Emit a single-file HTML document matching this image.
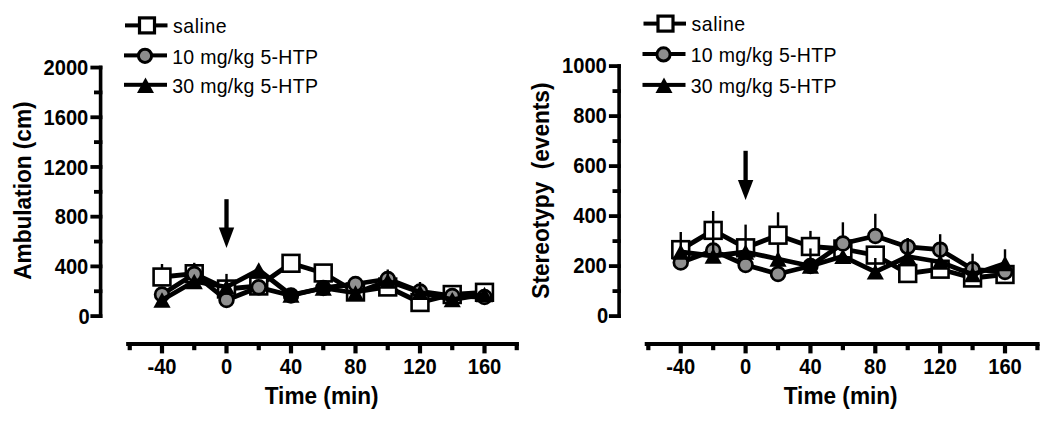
<!DOCTYPE html>
<html><head><meta charset="utf-8"><style>
html,body{margin:0;padding:0;background:#fff;}
body{width:1050px;height:423px;overflow:hidden;}
svg{display:block;}
text{font-family:"Liberation Sans",sans-serif;fill:#000;}
.tk{font-size:21.8px;font-weight:bold;}
.tt{font-size:24.2px;font-weight:bold;}
.lg{font-size:21px;}
</style></head><body>
<svg width="1050" height="423" viewBox="0 0 1050 423">
<rect x="98.80" y="65.65" width="3.6" height="252.35"/>
<rect x="90.40" y="314.20" width="12.00" height="3.8"/>
<text class="tk" transform="translate(89.60,323.80) scale(0.925,1)" text-anchor="end">0</text>
<rect x="90.40" y="264.49" width="12.00" height="3.8"/>
<text class="tk" transform="translate(88.30,274.09) scale(0.925,1)" text-anchor="end">400</text>
<rect x="90.40" y="214.78" width="12.00" height="3.8"/>
<text class="tk" transform="translate(88.30,224.38) scale(0.925,1)" text-anchor="end">800</text>
<rect x="90.40" y="165.07" width="12.00" height="3.8"/>
<text class="tk" transform="translate(88.30,174.67) scale(0.925,1)" text-anchor="end">1200</text>
<rect x="90.40" y="115.36" width="12.00" height="3.8"/>
<text class="tk" transform="translate(88.30,124.96) scale(0.925,1)" text-anchor="end">1600</text>
<rect x="90.40" y="65.65" width="12.00" height="3.8"/>
<text class="tk" transform="translate(88.30,75.25) scale(0.925,1)" text-anchor="end">2000</text>
<rect x="94.00" y="289.35" width="8.40" height="3.8"/>
<rect x="94.00" y="239.64" width="8.40" height="3.8"/>
<rect x="94.00" y="189.93" width="8.40" height="3.8"/>
<rect x="94.00" y="140.22" width="8.40" height="3.8"/>
<rect x="94.00" y="90.51" width="8.40" height="3.8"/>
<rect x="126.15" y="342" width="392.80" height="4"/>
<rect x="127.65" y="344" width="4.2" height="6.2"/>
<rect x="159.90" y="344" width="4.2" height="9.4"/>
<text class="tk" transform="translate(162.00,373.6) scale(0.925,1)" text-anchor="middle">-40</text>
<rect x="192.15" y="344" width="4.2" height="6.2"/>
<rect x="224.40" y="344" width="4.2" height="9.4"/>
<text class="tk" transform="translate(226.50,373.6) scale(0.925,1)" text-anchor="middle">0</text>
<rect x="256.65" y="344" width="4.2" height="6.2"/>
<rect x="288.90" y="344" width="4.2" height="9.4"/>
<text class="tk" transform="translate(291.00,373.6) scale(0.925,1)" text-anchor="middle">40</text>
<rect x="321.15" y="344" width="4.2" height="6.2"/>
<rect x="353.40" y="344" width="4.2" height="9.4"/>
<text class="tk" transform="translate(355.50,373.6) scale(0.925,1)" text-anchor="middle">80</text>
<rect x="385.65" y="344" width="4.2" height="6.2"/>
<rect x="417.90" y="344" width="4.2" height="9.4"/>
<text class="tk" transform="translate(420.00,373.6) scale(0.925,1)" text-anchor="middle">120</text>
<rect x="450.15" y="344" width="4.2" height="6.2"/>
<rect x="482.40" y="344" width="4.2" height="9.4"/>
<text class="tk" transform="translate(484.50,373.6) scale(0.925,1)" text-anchor="middle">160</text>
<rect x="514.65" y="344" width="4.2" height="6.2"/>
<text class="tt" transform="translate(321.65,404.4) scale(0.935,1)" text-anchor="middle">Time (min)</text>
<text class="tt" transform="translate(30.90,190.6) rotate(-90) scale(0.935,1)" text-anchor="middle">Ambulation (cm)</text>
<rect x="125.00" y="23.40" width="42.5" height="4"/>
<rect x="139.50" y="17.90" width="15" height="15" fill="#fff" stroke="#000" stroke-width="3.2"/>
<rect x="124.00" y="53.40" width="43" height="4"/>
<circle cx="145.00" cy="55.80" r="6.6" fill="#8c8c8c" stroke="#000" stroke-width="3"/>
<rect x="124.00" y="82.80" width="43" height="4"/>
<path d="M145.50,77.50 L154.00,93.00 L137.00,93.00 Z"/>
<text class="lg" transform="translate(172.90,33.00) scale(0.93,1)" letter-spacing="0.6">saline</text>
<text class="lg" transform="translate(172.20,63.60) scale(0.93,1)" letter-spacing="0.3">10 mg/kg 5-HTP</text>
<text class="lg" transform="translate(172.20,92.60) scale(0.93,1)" letter-spacing="0.3">30 mg/kg 5-HTP</text>
<rect x="224.35" y="199.20" width="4.3" height="29.40"/>
<path d="M218.80,227.60 L234.20,227.60 L226.50,248.00 Z"/>
<rect x="160.80" y="264.00" width="2.4" height="13.00"/>
<rect x="193.05" y="262.80" width="2.4" height="11.20"/>
<rect x="225.30" y="273.90" width="2.4" height="15.10"/>
<polyline points="162.00,277.00 194.25,273.70 226.50,289.00 258.75,286.00 291.00,263.30 323.25,273.00 355.50,292.00 387.75,287.00 420.00,302.50 452.25,294.50 484.50,292.30" fill="none" stroke="#000" stroke-width="4.8" stroke-linejoin="round"/>
<rect x="153.60" y="268.60" width="16.8" height="16.8" fill="#fff" stroke="#000" stroke-width="2.6"/>
<rect x="185.85" y="265.30" width="16.8" height="16.8" fill="#fff" stroke="#000" stroke-width="2.6"/>
<rect x="218.10" y="280.60" width="16.8" height="16.8" fill="#fff" stroke="#000" stroke-width="2.6"/>
<rect x="250.35" y="277.60" width="16.8" height="16.8" fill="#fff" stroke="#000" stroke-width="2.6"/>
<rect x="282.60" y="254.90" width="16.8" height="16.8" fill="#fff" stroke="#000" stroke-width="2.6"/>
<rect x="314.85" y="264.60" width="16.8" height="16.8" fill="#fff" stroke="#000" stroke-width="2.6"/>
<rect x="347.10" y="283.60" width="16.8" height="16.8" fill="#fff" stroke="#000" stroke-width="2.6"/>
<rect x="379.35" y="278.60" width="16.8" height="16.8" fill="#fff" stroke="#000" stroke-width="2.6"/>
<rect x="411.60" y="294.10" width="16.8" height="16.8" fill="#fff" stroke="#000" stroke-width="2.6"/>
<rect x="443.85" y="286.10" width="16.8" height="16.8" fill="#fff" stroke="#000" stroke-width="2.6"/>
<rect x="476.10" y="283.90" width="16.8" height="16.8" fill="#fff" stroke="#000" stroke-width="2.6"/>
<polyline points="162.00,294.50 194.25,274.00 226.50,300.00 258.75,287.30 291.00,295.50 323.25,288.00 355.50,284.00 387.75,279.00 420.00,291.50 452.25,296.00 484.50,297.00" fill="none" stroke="#000" stroke-width="4.8" stroke-linejoin="round"/>
<circle cx="162.00" cy="294.50" r="6.9" fill="#909090" stroke="#000" stroke-width="2.7"/>
<circle cx="194.25" cy="274.00" r="6.9" fill="#909090" stroke="#000" stroke-width="2.7"/>
<circle cx="226.50" cy="300.00" r="6.9" fill="#909090" stroke="#000" stroke-width="2.7"/>
<circle cx="258.75" cy="287.30" r="6.9" fill="#909090" stroke="#000" stroke-width="2.7"/>
<circle cx="291.00" cy="295.50" r="6.9" fill="#000" stroke="#000" stroke-width="2.7"/>
<circle cx="323.25" cy="288.00" r="6.9" fill="#000" stroke="#000" stroke-width="2.7"/>
<circle cx="355.50" cy="284.00" r="6.9" fill="#909090" stroke="#000" stroke-width="2.7"/>
<circle cx="387.75" cy="279.00" r="6.9" fill="#909090" stroke="#000" stroke-width="2.7"/>
<circle cx="420.00" cy="291.50" r="6.9" fill="#909090" stroke="#000" stroke-width="2.7"/>
<circle cx="452.25" cy="296.00" r="6.9" fill="#909090" stroke="#000" stroke-width="2.7"/>
<circle cx="484.50" cy="297.00" r="6.9" fill="#909090" stroke="#000" stroke-width="2.7"/>
<rect x="386.55" y="269.50" width="2.4" height="11.50"/>
<rect x="418.80" y="282.00" width="2.4" height="10.00"/>
<polyline points="162.00,300.00 194.25,281.50 226.50,287.00 258.75,270.00 291.00,295.00 323.25,288.00 355.50,293.00 387.75,281.00 420.00,292.30 452.25,299.60 484.50,294.50" fill="none" stroke="#000" stroke-width="4.8" stroke-linejoin="round"/>
<path d="M162.00,292.35 L170.60,307.65 L153.40,307.65 Z"/>
<path d="M194.25,273.85 L202.85,289.15 L185.65,289.15 Z"/>
<path d="M226.50,279.35 L235.10,294.65 L217.90,294.65 Z"/>
<path d="M258.75,262.35 L267.35,277.65 L250.15,277.65 Z"/>
<path d="M291.00,287.35 L299.60,302.65 L282.40,302.65 Z"/>
<path d="M323.25,280.35 L331.85,295.65 L314.65,295.65 Z"/>
<path d="M355.50,285.35 L364.10,300.65 L346.90,300.65 Z"/>
<path d="M387.75,273.35 L396.35,288.65 L379.15,288.65 Z"/>
<path d="M420.00,284.65 L428.60,299.95 L411.40,299.95 Z"/>
<path d="M452.25,291.95 L460.85,307.25 L443.65,307.25 Z"/>
<path d="M484.50,286.85 L493.10,302.15 L475.90,302.15 Z"/>
<rect x="617.30" y="64.20" width="3.6" height="253.80"/>
<rect x="608.90" y="314.20" width="12.00" height="3.8"/>
<text class="tk" transform="translate(608.10,322.90) scale(0.925,1)" text-anchor="end">0</text>
<rect x="608.90" y="264.20" width="12.00" height="3.8"/>
<text class="tk" transform="translate(606.80,272.90) scale(0.925,1)" text-anchor="end">200</text>
<rect x="608.90" y="214.20" width="12.00" height="3.8"/>
<text class="tk" transform="translate(606.80,222.90) scale(0.925,1)" text-anchor="end">400</text>
<rect x="608.90" y="164.20" width="12.00" height="3.8"/>
<text class="tk" transform="translate(606.80,172.90) scale(0.925,1)" text-anchor="end">600</text>
<rect x="608.90" y="114.20" width="12.00" height="3.8"/>
<text class="tk" transform="translate(606.80,122.90) scale(0.925,1)" text-anchor="end">800</text>
<rect x="608.90" y="64.20" width="12.00" height="3.8"/>
<text class="tk" transform="translate(606.80,72.90) scale(0.925,1)" text-anchor="end">1000</text>
<rect x="612.50" y="289.20" width="8.40" height="3.8"/>
<rect x="612.50" y="239.20" width="8.40" height="3.8"/>
<rect x="612.50" y="189.20" width="8.40" height="3.8"/>
<rect x="612.50" y="139.20" width="8.40" height="3.8"/>
<rect x="612.50" y="89.20" width="8.40" height="3.8"/>
<rect x="644.72" y="342" width="394.91" height="4"/>
<rect x="646.22" y="344" width="4.2" height="6.2"/>
<rect x="678.65" y="344" width="4.2" height="9.4"/>
<text class="tk" transform="translate(680.75,373.6) scale(0.925,1)" text-anchor="middle">-40</text>
<rect x="711.07" y="344" width="4.2" height="6.2"/>
<rect x="743.50" y="344" width="4.2" height="9.4"/>
<text class="tk" transform="translate(745.60,373.6) scale(0.925,1)" text-anchor="middle">0</text>
<rect x="775.93" y="344" width="4.2" height="6.2"/>
<rect x="808.35" y="344" width="4.2" height="9.4"/>
<text class="tk" transform="translate(810.45,373.6) scale(0.925,1)" text-anchor="middle">40</text>
<rect x="840.78" y="344" width="4.2" height="6.2"/>
<rect x="873.20" y="344" width="4.2" height="9.4"/>
<text class="tk" transform="translate(875.30,373.6) scale(0.925,1)" text-anchor="middle">80</text>
<rect x="905.63" y="344" width="4.2" height="6.2"/>
<rect x="938.06" y="344" width="4.2" height="9.4"/>
<text class="tk" transform="translate(940.16,373.6) scale(0.925,1)" text-anchor="middle">120</text>
<rect x="970.48" y="344" width="4.2" height="6.2"/>
<rect x="1002.91" y="344" width="4.2" height="9.4"/>
<text class="tk" transform="translate(1005.01,373.6) scale(0.925,1)" text-anchor="middle">160</text>
<rect x="1035.33" y="344" width="4.2" height="6.2"/>
<text class="tt" transform="translate(840.65,404.4) scale(0.935,1)" text-anchor="middle">Time (min)</text>
<text class="tt" transform="translate(549.40,190.6) rotate(-90) scale(0.935,1)" text-anchor="middle">Stereotypy  (events)</text>
<rect x="643.50" y="21.60" width="42.5" height="4"/>
<rect x="658.00" y="16.10" width="15" height="15" fill="#fff" stroke="#000" stroke-width="3.2"/>
<rect x="642.50" y="52.00" width="43" height="4"/>
<circle cx="663.50" cy="54.40" r="6.6" fill="#8c8c8c" stroke="#000" stroke-width="3"/>
<rect x="642.50" y="82.90" width="43" height="4"/>
<path d="M664.00,77.60 L672.50,93.10 L655.50,93.10 Z"/>
<text class="lg" transform="translate(691.40,31.20) scale(0.93,1)" letter-spacing="0.6">saline</text>
<text class="lg" transform="translate(690.70,62.20) scale(0.93,1)" letter-spacing="0.3">10 mg/kg 5-HTP</text>
<text class="lg" transform="translate(690.70,92.70) scale(0.93,1)" letter-spacing="0.3">30 mg/kg 5-HTP</text>
<rect x="743.45" y="150.80" width="4.3" height="30.20"/>
<path d="M737.90,180.00 L753.30,180.00 L745.60,200.00 Z"/>
<rect x="776.83" y="212.30" width="2.4" height="22.70"/>
<rect x="809.25" y="230.90" width="2.4" height="15.10"/>
<polyline points="680.75,249.60 713.17,230.40 745.60,247.80 778.03,235.20 810.45,246.50 842.88,249.00 875.30,255.10 907.73,273.50 940.16,269.20 972.58,278.00 1005.01,274.50" fill="none" stroke="#000" stroke-width="4.8" stroke-linejoin="round"/>
<rect x="672.35" y="241.20" width="16.8" height="16.8" fill="#fff" stroke="#000" stroke-width="2.6"/>
<rect x="704.77" y="222.00" width="16.8" height="16.8" fill="#fff" stroke="#000" stroke-width="2.6"/>
<rect x="737.20" y="239.40" width="16.8" height="16.8" fill="#fff" stroke="#000" stroke-width="2.6"/>
<rect x="769.63" y="226.80" width="16.8" height="16.8" fill="#fff" stroke="#000" stroke-width="2.6"/>
<rect x="802.05" y="238.10" width="16.8" height="16.8" fill="#fff" stroke="#000" stroke-width="2.6"/>
<rect x="834.48" y="240.60" width="16.8" height="16.8" fill="#fff" stroke="#000" stroke-width="2.6"/>
<rect x="866.90" y="246.70" width="16.8" height="16.8" fill="#fff" stroke="#000" stroke-width="2.6"/>
<rect x="899.33" y="265.10" width="16.8" height="16.8" fill="#fff" stroke="#000" stroke-width="2.6"/>
<rect x="931.76" y="260.80" width="16.8" height="16.8" fill="#fff" stroke="#000" stroke-width="2.6"/>
<rect x="964.18" y="269.60" width="16.8" height="16.8" fill="#fff" stroke="#000" stroke-width="2.6"/>
<rect x="996.61" y="266.10" width="16.8" height="16.8" fill="#fff" stroke="#000" stroke-width="2.6"/>
<rect x="841.68" y="222.30" width="2.4" height="22.70"/>
<rect x="874.10" y="213.80" width="2.4" height="26.20"/>
<rect x="906.53" y="238.30" width="2.4" height="8.70"/>
<polyline points="680.75,262.50 713.17,250.50 745.60,265.00 778.03,274.00 810.45,266.00 842.88,243.50 875.30,236.00 907.73,246.90 940.16,249.70 972.58,269.30 1005.01,272.00" fill="none" stroke="#000" stroke-width="4.8" stroke-linejoin="round"/>
<circle cx="680.75" cy="262.50" r="6.9" fill="#909090" stroke="#000" stroke-width="2.7"/>
<circle cx="713.17" cy="250.50" r="6.9" fill="#909090" stroke="#000" stroke-width="2.7"/>
<circle cx="745.60" cy="265.00" r="6.9" fill="#909090" stroke="#000" stroke-width="2.7"/>
<circle cx="778.03" cy="274.00" r="6.9" fill="#909090" stroke="#000" stroke-width="2.7"/>
<circle cx="810.45" cy="266.00" r="6.9" fill="#000" stroke="#000" stroke-width="2.7"/>
<circle cx="842.88" cy="243.50" r="6.9" fill="#909090" stroke="#000" stroke-width="2.7"/>
<circle cx="875.30" cy="236.00" r="6.9" fill="#909090" stroke="#000" stroke-width="2.7"/>
<circle cx="907.73" cy="246.90" r="6.9" fill="#909090" stroke="#000" stroke-width="2.7"/>
<circle cx="940.16" cy="249.70" r="6.9" fill="#909090" stroke="#000" stroke-width="2.7"/>
<circle cx="972.58" cy="269.30" r="6.9" fill="#909090" stroke="#000" stroke-width="2.7"/>
<circle cx="1005.01" cy="272.00" r="6.9" fill="#909090" stroke="#000" stroke-width="2.7"/>
<rect x="679.55" y="232.00" width="2.4" height="20.00"/>
<rect x="711.97" y="211.00" width="2.4" height="45.00"/>
<rect x="744.40" y="224.60" width="2.4" height="27.40"/>
<rect x="776.83" y="244.40" width="2.4" height="14.60"/>
<rect x="809.25" y="248.40" width="2.4" height="17.60"/>
<rect x="874.10" y="258.00" width="2.4" height="13.00"/>
<rect x="906.53" y="238.00" width="2.4" height="18.00"/>
<rect x="938.96" y="234.20" width="2.4" height="27.80"/>
<rect x="971.38" y="253.70" width="2.4" height="20.30"/>
<rect x="1003.81" y="249.30" width="2.4" height="13.70"/>
<polyline points="680.75,252.00 713.17,256.00 745.60,252.00 778.03,259.00 810.45,266.00 842.88,256.30 875.30,271.80 907.73,256.50 940.16,262.00 972.58,274.50 1005.01,263.50" fill="none" stroke="#000" stroke-width="4.8" stroke-linejoin="round"/>
<path d="M680.75,244.35 L689.35,259.65 L672.15,259.65 Z"/>
<path d="M713.17,248.35 L721.77,263.65 L704.57,263.65 Z"/>
<path d="M745.60,244.35 L754.20,259.65 L737.00,259.65 Z"/>
<path d="M778.03,251.35 L786.63,266.65 L769.43,266.65 Z"/>
<path d="M810.45,258.35 L819.05,273.65 L801.85,273.65 Z"/>
<path d="M842.88,248.65 L851.48,263.95 L834.28,263.95 Z"/>
<path d="M875.30,264.15 L883.90,279.45 L866.70,279.45 Z"/>
<path d="M907.73,248.85 L916.33,264.15 L899.13,264.15 Z"/>
<path d="M940.16,254.35 L948.76,269.65 L931.56,269.65 Z"/>
<path d="M972.58,266.85 L981.18,282.15 L963.98,282.15 Z"/>
<path d="M1005.01,255.85 L1013.61,271.15 L996.41,271.15 Z"/>
</svg>
</body></html>
